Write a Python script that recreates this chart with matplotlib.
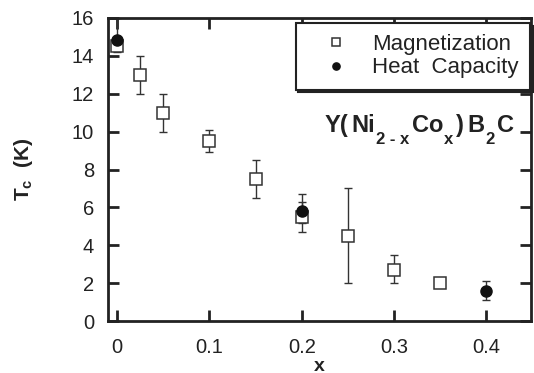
import matplotlib
matplotlib.use("Agg")
import matplotlib.pyplot as plt
import numpy as np

plt.rcParams['font.family'] = ['Liberation Sans', 'DejaVu Sans']
plt.rcParams['mathtext.fontset'] = 'custom'
plt.rcParams['mathtext.rm'] = 'Liberation Sans'
plt.rcParams['mathtext.bf'] = 'Liberation Sans:bold'

# Magnetization data
mag_x = [0.0, 0.025, 0.05, 0.10, 0.15, 0.20, 0.25, 0.30, 0.35]
mag_y = [14.5, 13.0, 11.0, 9.5, 7.5, 5.5, 4.5, 2.7, 2.0]
mag_lo = [0.3, 1.0, 1.0, 0.6, 1.0, 0.8, 2.5, 0.7, 0.0]
mag_hi = [0.0, 1.0, 1.0, 0.6, 1.0, 0.8, 2.5, 0.8, 0.0]

# Heat capacity data
hc_x = [0.0, 0.20, 0.40]
hc_y = [14.85, 5.8, 1.6]
hc_lo = [0.0, 0.6, 0.5]
hc_hi = [1.15, 0.9, 0.5]

xticks = [0, 0.1, 0.2, 0.3, 0.4]
xticklabels = ['0', '0.1', '0.2', '0.3', '0.4']
yticks = [0, 2, 4, 6, 8, 10, 12, 14, 16]

DARK = '#222222'

fig = plt.figure(figsize=(5.34, 3.73), dpi=100)
ax = fig.add_axes([0.202, 0.139, 0.792, 0.813])

ax.errorbar(mag_x, mag_y, yerr=[mag_lo, mag_hi], fmt='none', ecolor='#333333',
            elinewidth=1.0, capsize=3.2, capthick=1.0, zorder=2)
ax.errorbar(hc_x, hc_y, yerr=[hc_lo, hc_hi], fmt='none', ecolor='#333333',
            elinewidth=1.0, capsize=3.2, capthick=1.0, zorder=2)
ax.plot(mag_x, mag_y, 's', ms=8, mfc='white', mec='#333333', mew=1.1,
        label='Magnetization', zorder=3)
ax.plot(hc_x, hc_y, 'o', ms=8, mfc='#111111', mec='#111111',
        label='Heat  Capacity', zorder=4)

ax.set_xlim(-0.01, 0.448)
ax.set_ylim(0, 16)
ax.set_xticks(xticks)
ax.set_xticklabels(xticklabels)
ax.set_yticks(yticks)

ax.tick_params(direction='in', length=8, width=2, labelsize=14.5,
               top=True, right=True, colors=DARK)
ax.tick_params(axis='x', pad=12)
ax.tick_params(axis='y', pad=10)
for sp in ax.spines.values():
    sp.set_linewidth(2)
    sp.set_color(DARK)

ax.set_xlabel('x', fontsize=14, fontweight='bold', labelpad=0.5, color=DARK)
ax.set_ylabel(r'T$_{\mathbf{c}}$  (K)', fontsize=15, fontweight='bold',
              labelpad=26, color=DARK)

leg = ax.legend(loc='upper right', bbox_to_anchor=(0.998, 0.983),
                borderaxespad=0, fontsize=16, frameon=True, fancybox=False,
                shadow={'color': '#222222', 'alpha': 1.0}, borderpad=0.5,
                handletextpad=0.35, labelspacing=0.1, markerscale=0.65,
                handlelength=2.6)
leg.get_frame().set_edgecolor(DARK)
leg.get_frame().set_linewidth(1.5)
leg.get_frame().set_alpha(1.0)
for t in leg.get_texts():
    t.set_color(DARK)

# Compound formula built piece by piece (text, fontsize, is_subscript, gap before in px)
pieces = [('Y(', 17, False, 0), ('Ni', 17, False, 3), ('2 - x', 12, True, 1),
          ('Co', 17, False, 2), ('x', 12, True, 1), (')', 17, False, 3),
          ('B', 17, False, 3), ('2', 12, True, 1), ('C', 17, False, 3)]
fig.canvas.draw()
renderer = fig.canvas.get_renderer()
x_px = 325.0
base_px = 373 - 132.0
for txt, fs, sub, gap in pieces:
    x_px += gap
    y_px = base_px - (12 if sub else 0)
    t = fig.text(x_px / 534, y_px / 373, txt, fontsize=fs, fontweight='bold',
                 ha='left', va='baseline', color=DARK)
    bb = t.get_window_extent(renderer)
    x_px += bb.width

fig.savefig('out.png', dpi=100)
